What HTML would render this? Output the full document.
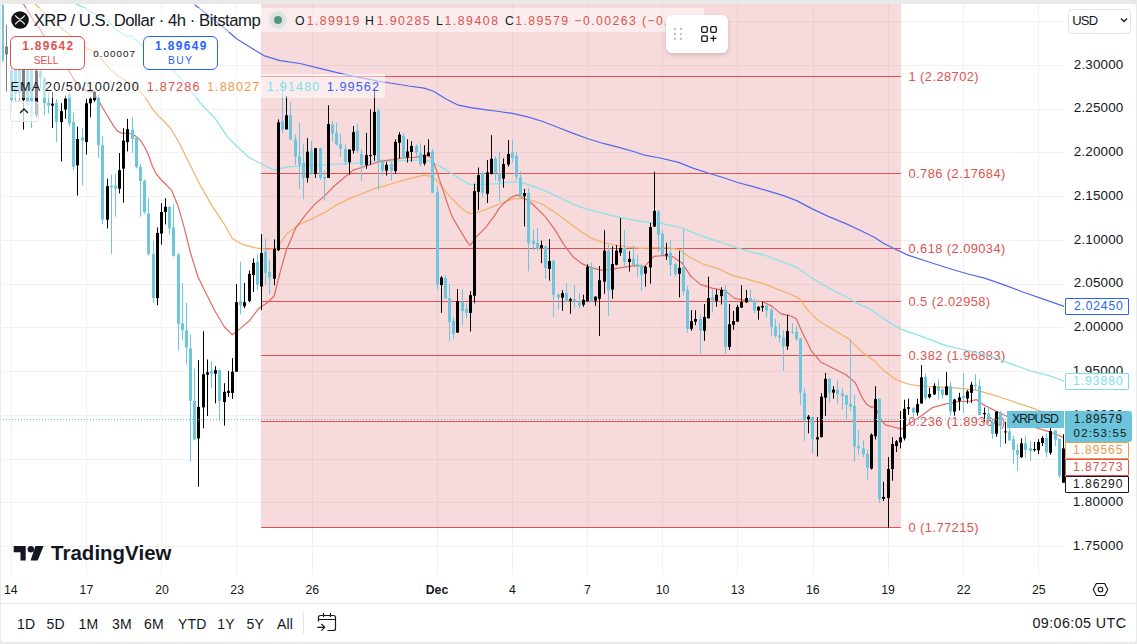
<!DOCTYPE html>
<html><head><meta charset="utf-8">
<style>
html,body{margin:0;padding:0;width:1137px;height:644px;overflow:hidden;background:#e9e9ea;font-family:"Liberation Sans",sans-serif;}
.card{position:absolute;left:1px;top:4px;width:1135px;height:637.5px;background:#fff;border-radius:3px;overflow:hidden}
.abs{position:absolute;white-space:nowrap}
.t{position:absolute;white-space:nowrap;font-family:"Liberation Sans",sans-serif}
#chart{position:absolute;left:0;top:0}
.lg{background:rgba(255,255,255,0.55)}
.pl{position:absolute;left:1074px;font-size:12.5px;color:#131722;line-height:14px}
.tl{position:absolute;top:582px;font-size:12.5px;color:#131722;line-height:14px;transform:translateX(-50%)}
.fib{position:absolute;left:908px;font-size:12.5px;color:#e0524d;line-height:14px}
.tb{position:absolute;top:616px;font-size:14px;color:#131722;line-height:16px}
.pbox{position:absolute;left:1065px;width:62px;height:14px;border:1px solid;border-radius:2px;font-size:12.5px;line-height:14px;text-align:center;background:#fff}
</style></head><body>
<div class="card"></div>
<svg id="chart" width="1137" height="644" viewBox="0 0 1137 644">
<defs><clipPath id="pane"><rect x="2" y="4" width="1063" height="571"/></clipPath></defs>
<g clip-path="url(#pane)">
<line x1="11.5" y1="4" x2="11.5" y2="575" stroke="#f1f1f1" stroke-width="1"/>
<line x1="86.5" y1="4" x2="86.5" y2="575" stroke="#f1f1f1" stroke-width="1"/>
<line x1="161.5" y1="4" x2="161.5" y2="575" stroke="#f1f1f1" stroke-width="1"/>
<line x1="236.5" y1="4" x2="236.5" y2="575" stroke="#f1f1f1" stroke-width="1"/>
<line x1="312.5" y1="4" x2="312.5" y2="575" stroke="#f1f1f1" stroke-width="1"/>
<line x1="437.5" y1="4" x2="437.5" y2="575" stroke="#f1f1f1" stroke-width="1"/>
<line x1="512.5" y1="4" x2="512.5" y2="575" stroke="#f1f1f1" stroke-width="1"/>
<line x1="587.5" y1="4" x2="587.5" y2="575" stroke="#f1f1f1" stroke-width="1"/>
<line x1="662.5" y1="4" x2="662.5" y2="575" stroke="#f1f1f1" stroke-width="1"/>
<line x1="737.5" y1="4" x2="737.5" y2="575" stroke="#f1f1f1" stroke-width="1"/>
<line x1="813.5" y1="4" x2="813.5" y2="575" stroke="#f1f1f1" stroke-width="1"/>
<line x1="888.5" y1="4" x2="888.5" y2="575" stroke="#f1f1f1" stroke-width="1"/>
<line x1="963.5" y1="4" x2="963.5" y2="575" stroke="#f1f1f1" stroke-width="1"/>
<line x1="1038.5" y1="4" x2="1038.5" y2="575" stroke="#f1f1f1" stroke-width="1"/>
<line x1="0" y1="21.5" x2="1064" y2="21.5" stroke="#f1f1f1" stroke-width="1"/>
<line x1="0" y1="65.5" x2="1064" y2="65.5" stroke="#f1f1f1" stroke-width="1"/>
<line x1="0" y1="109.5" x2="1064" y2="109.5" stroke="#f1f1f1" stroke-width="1"/>
<line x1="0" y1="152.5" x2="1064" y2="152.5" stroke="#f1f1f1" stroke-width="1"/>
<line x1="0" y1="196.5" x2="1064" y2="196.5" stroke="#f1f1f1" stroke-width="1"/>
<line x1="0" y1="240.5" x2="1064" y2="240.5" stroke="#f1f1f1" stroke-width="1"/>
<line x1="0" y1="284.5" x2="1064" y2="284.5" stroke="#f1f1f1" stroke-width="1"/>
<line x1="0" y1="327.5" x2="1064" y2="327.5" stroke="#f1f1f1" stroke-width="1"/>
<line x1="0" y1="371.5" x2="1064" y2="371.5" stroke="#f1f1f1" stroke-width="1"/>
<line x1="0" y1="415.5" x2="1064" y2="415.5" stroke="#f1f1f1" stroke-width="1"/>
<line x1="0" y1="459.5" x2="1064" y2="459.5" stroke="#f1f1f1" stroke-width="1"/>
<line x1="0" y1="502.5" x2="1064" y2="502.5" stroke="#f1f1f1" stroke-width="1"/>
<line x1="0" y1="546.5" x2="1064" y2="546.5" stroke="#f1f1f1" stroke-width="1"/>
<rect x="261" y="4" width="640" height="523" fill="rgba(219,107,115,0.25)"/>
<line x1="261" y1="76.5" x2="901" y2="76.5" stroke="#e0524d" stroke-width="1"/>
<line x1="261" y1="173.5" x2="901" y2="173.5" stroke="#e0524d" stroke-width="1"/>
<line x1="261" y1="248.5" x2="901" y2="248.5" stroke="#e0524d" stroke-width="1"/>
<line x1="261" y1="301.5" x2="901" y2="301.5" stroke="#e0524d" stroke-width="1"/>
<line x1="261" y1="355.5" x2="901" y2="355.5" stroke="#e0524d" stroke-width="1"/>
<line x1="261" y1="421.5" x2="901" y2="421.5" stroke="#e0524d" stroke-width="1"/>
<line x1="261" y1="527.5" x2="901" y2="527.5" stroke="#e0524d" stroke-width="1"/>
<text x="908.5" y="81.0" font-family="Liberation Sans" font-size="12.86" letter-spacing="0.43" fill="#e0524d" class="fibt">1 (2.28702)</text>
<text x="908.5" y="178.0" font-family="Liberation Sans" font-size="12.86" letter-spacing="0.43" fill="#e0524d" class="fibt">0.786 (2.17684)</text>
<text x="908.5" y="253.0" font-family="Liberation Sans" font-size="12.86" letter-spacing="0.43" fill="#e0524d" class="fibt">0.618 (2.09034)</text>
<text x="908.5" y="306.0" font-family="Liberation Sans" font-size="12.86" letter-spacing="0.43" fill="#e0524d" class="fibt">0.5 (2.02958)</text>
<text x="908.5" y="360.0" font-family="Liberation Sans" font-size="12.86" letter-spacing="0.43" fill="#e0524d" class="fibt">0.382 (1.96883)</text>
<text x="908.5" y="426.0" font-family="Liberation Sans" font-size="12.86" letter-spacing="0.43" fill="#e0524d" class="fibt">0.236 (1.89360)</text>
<text x="908.5" y="532.0" font-family="Liberation Sans" font-size="12.86" letter-spacing="0.43" fill="#e0524d" class="fibt">0 (1.77215)</text>
<polyline points="194.7,4.7 208.7,15.5 224.2,28.0 236.6,38.8 249.0,46.6 264.6,55.9 280.0,60.6 300.0,63.5 315.5,67.3 331.0,71.1 346.6,74.8 362.1,77.9 377.6,81.0 393.2,83.5 408.7,86.0 424.2,88.1 433.5,91.2 446.0,99.0 458.4,105.2 470.8,107.7 486.3,109.9 495.5,111.0 511.0,113.2 526.6,116.6 542.1,121.3 557.6,127.2 573.2,133.4 588.7,139.0 604.2,143.7 619.8,147.7 635.3,152.0 644.6,155.2 660.0,158.0 678.6,162.4 694.2,168.6 709.7,173.5 722.1,177.3 737.6,182.5 753.2,186.6 768.7,191.2 784.2,195.9 796.6,200.6 812.2,208.9 827.7,216.1 846.3,223.9 861.6,231.0 875.2,237.7 882.9,243.0 894.5,248.8 908.0,255.1 927.4,261.5 946.8,267.7 966.1,273.5 985.4,278.4 1004.8,285.1 1024.2,292.5 1043.5,299.1 1064.0,306.4" fill="none" stroke="#5068ef" stroke-width="1.2" stroke-linejoin="round"/>
<polyline points="75.5,3.7 83.8,7.5 93.2,13.0 100.0,17.0 108.1,20.5 115.7,29.5 126.6,36.2 131.0,35.7 143.5,46.6 162.1,62.1 174.5,71.4 190.0,90.0 202.5,105.6 214.9,118.0 227.3,136.6 239.8,149.0 249.4,157.8 261.8,164.0 274.2,170.2 286.6,167.1 305.3,165.5 323.9,164.9 342.5,164.0 362.1,162.7 393.2,161.1 421.1,160.0 425.0,160.1 431.2,161.6 437.4,164.8 443.6,168.6 449.8,172.5 456.1,176.4 462.3,180.3 468.5,183.9 473.1,184.9 479.3,184.5 487.1,184.2 495.0,183.9 504.8,182.5 514.2,181.9 523.5,183.1 535.9,187.1 548.3,192.4 560.7,198.0 573.2,204.2 585.6,208.9 598.0,212.0 610.4,215.1 622.9,218.2 635.3,220.4 647.7,222.3 660.0,223.2 678.6,227.0 694.2,233.2 709.7,238.8 722.1,242.5 737.6,248.1 753.2,252.4 768.7,256.5 784.2,262.7 796.6,267.3 812.2,278.2 827.7,287.5 843.2,295.3 860.0,304.6 870.7,309.5 886.3,320.4 901.8,329.7 920.4,335.9 930.0,339.7 946.8,345.9 963.5,349.5 980.3,353.7 997.1,358.5 1013.8,364.9 1030.6,371.0 1047.4,375.2 1064.2,381.0" fill="none" stroke="#88e2ec" stroke-width="1.25" stroke-linejoin="round"/>
<polyline points="34.5,3.7 41.0,9.3 48.4,16.8 55.9,22.4 63.4,29.8 70.8,35.4 78.3,41.0 85.7,47.5 93.2,51.2 100.6,57.8 104.8,63.4 111.1,70.4 118.8,76.6 126.6,81.2 134.3,85.9 140.6,92.1 145.2,97.5 151.8,108.0 158.0,115.6 164.2,121.3 169.8,127.5 174.5,134.8 179.5,143.5 190.4,165.5 199.7,184.2 212.1,205.9 224.5,224.5 232.3,238.5 243.2,244.7 255.6,247.8 268.0,249.4 277.3,247.8 286.6,233.9 299.1,224.5 312.4,218.6 324.8,212.4 337.3,204.6 349.7,198.4 362.1,193.7 374.5,188.4 387.0,185.3 399.4,181.3 411.8,178.2 424.2,175.1 431.2,176.4 437.4,181.1 443.6,188.8 449.8,196.6 456.1,202.8 462.3,209.0 470.0,213.7 474.7,212.9 480.9,211.3 487.1,209.0 495.0,205.9 504.8,201.7 514.2,198.6 523.5,198.6 532.8,200.5 542.1,204.2 554.5,212.0 567.0,221.3 579.4,230.6 591.8,238.4 604.2,243.0 616.6,245.2 629.1,247.1 641.5,248.3 653.9,247.7 666.3,247.7 678.6,249.3 691.1,258.0 703.5,264.2 719.0,268.9 731.4,275.1 747.0,279.1 765.6,284.4 781.1,290.6 790.0,294.0 799.3,298.6 808.6,311.1 818.0,320.4 833.5,329.7 849.0,339.0 861.4,351.4 873.9,360.7 883.2,370.1 895.6,379.4 908.0,384.0 920.4,386.2 939.1,387.1 957.7,388.1 976.3,390.2 997.1,396.2 1013.8,401.8 1030.6,407.4 1041.8,411.6 1053.0,415.8 1064.2,419.0" fill="none" stroke="#f5b064" stroke-width="1.2" stroke-linejoin="round"/>
<polyline points="23.3,3.7 28.0,11.2 33.5,20.5 39.1,28.0 43.8,35.4 53.0,48.0 60.0,58.0 68.9,70.8 74.5,80.1 80.1,87.6 87.6,91.3 93.2,92.1 98.6,100.5 102.5,107.5 106.2,113.7 109.9,119.9 113.7,126.1 117.4,131.1 121.1,132.9 124.8,133.3 129.8,133.5 133.5,134.8 137.3,137.3 141.0,141.0 144.7,147.2 148.4,154.7 152.2,165.8 155.9,173.3 160.9,179.5 171.7,190.4 178.0,205.9 184.2,227.6 190.4,252.5 198.1,277.3 205.9,292.9 215.2,311.5 224.5,327.0 232.3,334.8 240.1,328.6 249.4,320.8 258.7,308.4 268.0,302.2 274.2,296.0 280.4,271.1 286.6,249.4 296.0,227.6 305.3,215.2 314.6,204.3 323.9,196.6 334.2,186.0 343.5,178.2 352.8,170.4 362.1,167.3 371.4,164.2 380.7,161.1 393.2,159.6 402.5,158.0 414.9,157.4 426.6,155.4 431.2,157.8 434.3,164.0 437.4,173.3 440.5,182.6 443.6,191.9 446.7,201.2 449.8,210.6 453.0,218.3 457.6,226.1 462.3,233.9 466.9,241.6 470.0,245.5 473.1,241.6 476.2,237.0 480.9,232.3 485.6,227.6 490.2,221.4 495.0,215.2 498.6,208.9 504.8,202.7 511.0,197.4 517.3,194.9 523.5,198.0 529.7,201.7 535.9,207.3 545.2,216.6 554.5,229.1 563.9,244.6 573.2,257.0 582.5,263.9 591.8,267.9 601.1,270.1 610.4,269.4 619.8,267.9 629.1,266.3 635.3,265.7 644.6,266.3 653.9,256.4 663.2,255.5 672.4,256.5 681.7,262.7 691.1,276.6 700.4,284.4 712.8,288.4 725.2,290.6 734.5,298.4 747.0,300.9 762.5,301.5 771.8,306.1 781.1,313.9 790.0,315.7 796.2,318.8 802.4,332.8 811.7,351.4 821.1,362.3 833.5,368.5 845.9,374.7 855.2,382.5 862.0,397.3 866.7,404.3 871.3,407.3 874.1,406.6 877.4,411.3 881.1,420.2 885.3,424.8 895.6,427.5 901.8,429.1 908.0,424.4 920.4,416.6 932.9,407.3 945.3,404.2 957.7,401.7 970.1,401.1 976.3,399.6 983.1,404.6 994.3,410.2 1005.5,415.8 1019.4,421.4 1033.4,427.0 1047.4,431.1 1058.6,435.3 1064.2,438.0" fill="none" stroke="#e06a62" stroke-width="1.2" stroke-linejoin="round"/>
<rect x="2" y="4.7" width="1" height="57.5" fill="#6cc7dc"/>
<rect x="1" y="4.7" width="3" height="55.9" fill="#6cc7dc"/>
<rect x="6" y="24.8" width="1" height="66.8" fill="#000000"/>
<rect x="5" y="46.6" width="3" height="7.8" fill="#000000"/>
<rect x="11" y="66.0" width="1" height="46.0" fill="#6cc7dc"/>
<rect x="10" y="70.0" width="3" height="30.0" fill="#6cc7dc"/>
<rect x="15" y="66.0" width="1" height="35.0" fill="#6cc7dc"/>
<rect x="14" y="70.0" width="3" height="23.5" fill="#6cc7dc"/>
<rect x="19" y="66.0" width="1" height="35.0" fill="#6cc7dc"/>
<rect x="18" y="70.0" width="3" height="23.5" fill="#6cc7dc"/>
<rect x="23" y="66.0" width="1" height="63.6" fill="#000000"/>
<rect x="22" y="70.0" width="3" height="30.0" fill="#000000"/>
<rect x="27" y="66.0" width="1" height="46.0" fill="#6cc7dc"/>
<rect x="26" y="70.0" width="3" height="35.0" fill="#6cc7dc"/>
<rect x="31" y="70.2" width="1" height="57.8" fill="#6cc7dc"/>
<rect x="30" y="70.5" width="3" height="47.5" fill="#6cc7dc"/>
<rect x="36" y="70.2" width="1" height="47.8" fill="#000000"/>
<rect x="35" y="70.7" width="3" height="44.7" fill="#000000"/>
<rect x="40" y="70.2" width="1" height="18.2" fill="#6cc7dc"/>
<rect x="39" y="71.0" width="3" height="7.0" fill="#6cc7dc"/>
<rect x="44" y="77.2" width="1" height="38.2" fill="#6cc7dc"/>
<rect x="43" y="78.6" width="3" height="24.7" fill="#6cc7dc"/>
<rect x="48" y="92.0" width="1" height="21.5" fill="#6cc7dc"/>
<rect x="47" y="102.8" width="3" height="2.8" fill="#6cc7dc"/>
<rect x="52" y="92.0" width="1" height="36.0" fill="#000000"/>
<rect x="51" y="103.7" width="3" height="1.9" fill="#000000"/>
<rect x="56" y="99.0" width="1" height="43.0" fill="#6cc7dc"/>
<rect x="55" y="102.8" width="3" height="19.1" fill="#6cc7dc"/>
<rect x="61" y="103.3" width="1" height="58.1" fill="#000000"/>
<rect x="60" y="111.1" width="3" height="10.9" fill="#000000"/>
<rect x="65" y="95.5" width="1" height="23.3" fill="#000000"/>
<rect x="64" y="98.6" width="3" height="10.9" fill="#000000"/>
<rect x="69" y="92.4" width="1" height="34.2" fill="#6cc7dc"/>
<rect x="68" y="94.0" width="3" height="29.5" fill="#6cc7dc"/>
<rect x="73" y="112.6" width="1" height="57.5" fill="#6cc7dc"/>
<rect x="72" y="121.9" width="3" height="45.0" fill="#6cc7dc"/>
<rect x="77" y="126.6" width="1" height="68.9" fill="#000000"/>
<rect x="76" y="139.0" width="3" height="26.4" fill="#000000"/>
<rect x="82" y="128.1" width="1" height="57.5" fill="#6cc7dc"/>
<rect x="81" y="137.5" width="3" height="3.1" fill="#6cc7dc"/>
<rect x="86" y="98.6" width="1" height="55.9" fill="#000000"/>
<rect x="85" y="103.3" width="3" height="38.8" fill="#000000"/>
<rect x="90" y="97.1" width="1" height="20.2" fill="#000000"/>
<rect x="89" y="98.6" width="3" height="4.7" fill="#000000"/>
<rect x="94" y="90.9" width="1" height="10.9" fill="#000000"/>
<rect x="93" y="91.8" width="3" height="8.4" fill="#000000"/>
<rect x="98" y="94.0" width="1" height="63.7" fill="#6cc7dc"/>
<rect x="97" y="97.1" width="3" height="48.1" fill="#6cc7dc"/>
<rect x="102" y="135.9" width="1" height="88.5" fill="#6cc7dc"/>
<rect x="101" y="145.2" width="3" height="74.5" fill="#6cc7dc"/>
<rect x="107" y="178.8" width="1" height="49.7" fill="#000000"/>
<rect x="106" y="186.2" width="3" height="33.5" fill="#000000"/>
<rect x="111" y="174.7" width="1" height="79.2" fill="#6cc7dc"/>
<rect x="110" y="185.6" width="3" height="1.9" fill="#6cc7dc"/>
<rect x="115" y="173.2" width="1" height="43.5" fill="#6cc7dc"/>
<rect x="114" y="185.6" width="3" height="3.1" fill="#6cc7dc"/>
<rect x="119" y="153.0" width="1" height="40.4" fill="#000000"/>
<rect x="118" y="170.1" width="3" height="18.6" fill="#000000"/>
<rect x="123" y="128.1" width="1" height="74.5" fill="#000000"/>
<rect x="122" y="140.6" width="3" height="28.0" fill="#000000"/>
<rect x="127" y="118.8" width="1" height="32.6" fill="#000000"/>
<rect x="126" y="129.1" width="3" height="13.0" fill="#000000"/>
<rect x="132" y="117.3" width="1" height="35.7" fill="#6cc7dc"/>
<rect x="131" y="129.7" width="3" height="9.3" fill="#6cc7dc"/>
<rect x="136" y="135.9" width="1" height="32.6" fill="#6cc7dc"/>
<rect x="135" y="137.5" width="3" height="29.5" fill="#6cc7dc"/>
<rect x="140" y="163.9" width="1" height="52.7" fill="#6cc7dc"/>
<rect x="139" y="167.0" width="3" height="14.0" fill="#6cc7dc"/>
<rect x="144" y="179.4" width="1" height="34.6" fill="#6cc7dc"/>
<rect x="143" y="181.0" width="3" height="31.0" fill="#6cc7dc"/>
<rect x="148" y="198.0" width="1" height="57.5" fill="#6cc7dc"/>
<rect x="147" y="213.5" width="3" height="40.4" fill="#6cc7dc"/>
<rect x="153" y="240.6" width="1" height="62.5" fill="#6cc7dc"/>
<rect x="152" y="253.7" width="3" height="44.4" fill="#6cc7dc"/>
<rect x="157" y="227.4" width="1" height="77.8" fill="#000000"/>
<rect x="156" y="232.9" width="3" height="65.2" fill="#000000"/>
<rect x="161" y="203.2" width="1" height="41.4" fill="#000000"/>
<rect x="160" y="211.9" width="3" height="21.6" fill="#000000"/>
<rect x="165" y="198.2" width="1" height="26.2" fill="#000000"/>
<rect x="164" y="206.8" width="3" height="5.1" fill="#000000"/>
<rect x="169" y="206.2" width="1" height="28.3" fill="#6cc7dc"/>
<rect x="168" y="206.8" width="3" height="21.6" fill="#6cc7dc"/>
<rect x="173" y="204.2" width="1" height="52.5" fill="#6cc7dc"/>
<rect x="172" y="227.4" width="3" height="28.3" fill="#6cc7dc"/>
<rect x="178" y="253.0" width="1" height="97.5" fill="#6cc7dc"/>
<rect x="177" y="254.7" width="3" height="69.1" fill="#6cc7dc"/>
<rect x="182" y="283.0" width="1" height="57.4" fill="#6cc7dc"/>
<rect x="181" y="323.2" width="3" height="7.1" fill="#6cc7dc"/>
<rect x="186" y="303.0" width="1" height="61.6" fill="#6cc7dc"/>
<rect x="185" y="330.3" width="3" height="17.1" fill="#6cc7dc"/>
<rect x="190" y="334.3" width="1" height="127.3" fill="#6cc7dc"/>
<rect x="189" y="348.4" width="3" height="52.5" fill="#6cc7dc"/>
<rect x="194" y="368.6" width="1" height="71.9" fill="#6cc7dc"/>
<rect x="193" y="400.9" width="3" height="38.5" fill="#6cc7dc"/>
<rect x="198" y="360.2" width="1" height="126.6" fill="#000000"/>
<rect x="197" y="407.0" width="3" height="31.4" fill="#000000"/>
<rect x="203" y="331.3" width="1" height="97.0" fill="#000000"/>
<rect x="202" y="374.3" width="3" height="33.1" fill="#000000"/>
<rect x="207" y="359.5" width="1" height="56.5" fill="#000000"/>
<rect x="206" y="372.3" width="3" height="2.4" fill="#000000"/>
<rect x="211" y="361.0" width="1" height="27.4" fill="#6cc7dc"/>
<rect x="210" y="371.0" width="3" height="2.7" fill="#6cc7dc"/>
<rect x="215" y="366.2" width="1" height="37.1" fill="#000000"/>
<rect x="214" y="370.2" width="3" height="3.5" fill="#000000"/>
<rect x="219" y="369.6" width="1" height="51.1" fill="#6cc7dc"/>
<rect x="218" y="370.2" width="3" height="30.8" fill="#6cc7dc"/>
<rect x="224" y="383.2" width="1" height="42.4" fill="#000000"/>
<rect x="223" y="391.8" width="3" height="10.2" fill="#000000"/>
<rect x="228" y="371.0" width="1" height="25.9" fill="#000000"/>
<rect x="227" y="390.8" width="3" height="2.1" fill="#000000"/>
<rect x="232" y="358.1" width="1" height="40.8" fill="#000000"/>
<rect x="231" y="371.7" width="3" height="21.2" fill="#000000"/>
<rect x="236" y="284.0" width="1" height="88.0" fill="#000000"/>
<rect x="235" y="302.1" width="3" height="69.6" fill="#000000"/>
<rect x="240" y="261.8" width="1" height="52.3" fill="#6cc7dc"/>
<rect x="239" y="301.1" width="3" height="4.1" fill="#6cc7dc"/>
<rect x="244" y="283.0" width="1" height="25.2" fill="#000000"/>
<rect x="243" y="302.1" width="3" height="4.1" fill="#000000"/>
<rect x="249" y="270.4" width="1" height="31.7" fill="#000000"/>
<rect x="248" y="273.9" width="3" height="27.2" fill="#000000"/>
<rect x="253" y="258.3" width="1" height="33.7" fill="#000000"/>
<rect x="252" y="262.8" width="3" height="12.1" fill="#000000"/>
<rect x="257" y="254.3" width="1" height="35.7" fill="#6cc7dc"/>
<rect x="256" y="261.8" width="3" height="23.2" fill="#6cc7dc"/>
<rect x="261" y="234.1" width="1" height="75.9" fill="#000000"/>
<rect x="260" y="253.1" width="3" height="33.5" fill="#000000"/>
<rect x="265" y="238.5" width="1" height="46.5" fill="#6cc7dc"/>
<rect x="264" y="251.7" width="3" height="21.2" fill="#6cc7dc"/>
<rect x="269" y="259.6" width="1" height="35.0" fill="#6cc7dc"/>
<rect x="268" y="272.0" width="3" height="5.5" fill="#6cc7dc"/>
<rect x="274" y="239.4" width="1" height="45.9" fill="#000000"/>
<rect x="273" y="248.8" width="3" height="30.0" fill="#000000"/>
<rect x="278" y="119.4" width="1" height="131.6" fill="#000000"/>
<rect x="277" y="122.4" width="3" height="127.9" fill="#000000"/>
<rect x="282" y="80.0" width="1" height="53.5" fill="#6cc7dc"/>
<rect x="281" y="121.4" width="3" height="8.1" fill="#6cc7dc"/>
<rect x="286" y="96.1" width="1" height="33.3" fill="#000000"/>
<rect x="285" y="115.3" width="3" height="14.1" fill="#000000"/>
<rect x="290" y="102.2" width="1" height="37.3" fill="#6cc7dc"/>
<rect x="289" y="115.3" width="3" height="24.2" fill="#6cc7dc"/>
<rect x="295" y="134.5" width="1" height="30.3" fill="#6cc7dc"/>
<rect x="294" y="139.5" width="3" height="17.2" fill="#6cc7dc"/>
<rect x="299" y="122.4" width="1" height="66.6" fill="#6cc7dc"/>
<rect x="298" y="156.3" width="3" height="8.5" fill="#6cc7dc"/>
<rect x="303" y="144.6" width="1" height="54.5" fill="#6cc7dc"/>
<rect x="302" y="162.8" width="3" height="15.1" fill="#6cc7dc"/>
<rect x="307" y="138.1" width="1" height="44.4" fill="#000000"/>
<rect x="306" y="151.7" width="3" height="26.2" fill="#000000"/>
<rect x="311" y="141.0" width="1" height="33.9" fill="#6cc7dc"/>
<rect x="310" y="150.6" width="3" height="23.2" fill="#6cc7dc"/>
<rect x="315" y="148.2" width="1" height="29.7" fill="#000000"/>
<rect x="314" y="148.2" width="3" height="25.6" fill="#000000"/>
<rect x="320" y="147.6" width="1" height="32.3" fill="#6cc7dc"/>
<rect x="319" y="148.2" width="3" height="29.7" fill="#6cc7dc"/>
<rect x="324" y="170.4" width="1" height="30.3" fill="#6cc7dc"/>
<rect x="323" y="176.9" width="3" height="1.6" fill="#6cc7dc"/>
<rect x="328" y="105.2" width="1" height="72.7" fill="#000000"/>
<rect x="327" y="124.0" width="3" height="53.9" fill="#000000"/>
<rect x="332" y="121.4" width="1" height="20.2" fill="#6cc7dc"/>
<rect x="331" y="124.4" width="3" height="9.1" fill="#6cc7dc"/>
<rect x="336" y="122.4" width="1" height="23.2" fill="#6cc7dc"/>
<rect x="335" y="132.9" width="3" height="11.7" fill="#6cc7dc"/>
<rect x="340" y="134.1" width="1" height="22.6" fill="#6cc7dc"/>
<rect x="339" y="144.2" width="3" height="4.4" fill="#6cc7dc"/>
<rect x="345" y="144.2" width="1" height="20.6" fill="#6cc7dc"/>
<rect x="344" y="149.0" width="3" height="12.7" fill="#6cc7dc"/>
<rect x="349" y="149.6" width="1" height="25.2" fill="#000000"/>
<rect x="348" y="149.6" width="3" height="12.7" fill="#000000"/>
<rect x="353" y="126.0" width="1" height="27.7" fill="#000000"/>
<rect x="352" y="132.1" width="3" height="18.6" fill="#000000"/>
<rect x="357" y="123.4" width="1" height="29.3" fill="#6cc7dc"/>
<rect x="356" y="130.9" width="3" height="19.8" fill="#6cc7dc"/>
<rect x="361" y="149.6" width="1" height="31.3" fill="#6cc7dc"/>
<rect x="360" y="153.7" width="3" height="11.5" fill="#6cc7dc"/>
<rect x="366" y="132.9" width="1" height="35.9" fill="#000000"/>
<rect x="365" y="155.1" width="3" height="10.1" fill="#000000"/>
<rect x="370" y="109.3" width="1" height="55.5" fill="#000000"/>
<rect x="369" y="155.1" width="3" height="1.0" fill="#000000"/>
<rect x="374" y="88.1" width="1" height="72.7" fill="#000000"/>
<rect x="373" y="111.9" width="3" height="43.2" fill="#000000"/>
<rect x="378" y="108.3" width="1" height="81.8" fill="#6cc7dc"/>
<rect x="377" y="110.7" width="3" height="50.1" fill="#6cc7dc"/>
<rect x="382" y="159.5" width="1" height="16.1" fill="#6cc7dc"/>
<rect x="381" y="162.1" width="3" height="8.5" fill="#6cc7dc"/>
<rect x="386" y="162.1" width="1" height="13.5" fill="#000000"/>
<rect x="385" y="164.9" width="3" height="5.7" fill="#000000"/>
<rect x="391" y="161.5" width="1" height="19.2" fill="#6cc7dc"/>
<rect x="390" y="164.1" width="3" height="6.5" fill="#6cc7dc"/>
<rect x="395" y="139.3" width="1" height="34.3" fill="#000000"/>
<rect x="394" y="141.9" width="3" height="29.1" fill="#000000"/>
<rect x="399" y="132.2" width="1" height="26.2" fill="#000000"/>
<rect x="398" y="134.6" width="3" height="8.1" fill="#000000"/>
<rect x="403" y="133.2" width="1" height="26.2" fill="#6cc7dc"/>
<rect x="402" y="135.8" width="3" height="22.6" fill="#6cc7dc"/>
<rect x="407" y="139.3" width="1" height="23.2" fill="#000000"/>
<rect x="406" y="151.4" width="3" height="6.1" fill="#000000"/>
<rect x="411" y="141.3" width="1" height="20.2" fill="#000000"/>
<rect x="410" y="145.9" width="3" height="6.1" fill="#000000"/>
<rect x="416" y="144.3" width="1" height="14.1" fill="#6cc7dc"/>
<rect x="415" y="145.9" width="3" height="6.5" fill="#6cc7dc"/>
<rect x="420" y="143.3" width="1" height="23.2" fill="#6cc7dc"/>
<rect x="419" y="152.8" width="3" height="11.3" fill="#6cc7dc"/>
<rect x="424" y="145.3" width="1" height="20.2" fill="#000000"/>
<rect x="423" y="154.8" width="3" height="8.7" fill="#000000"/>
<rect x="428" y="139.3" width="1" height="16.8" fill="#000000"/>
<rect x="427" y="152.4" width="3" height="3.6" fill="#000000"/>
<rect x="432" y="149.4" width="1" height="43.8" fill="#6cc7dc"/>
<rect x="431" y="151.4" width="3" height="41.4" fill="#6cc7dc"/>
<rect x="437" y="186.3" width="1" height="103.3" fill="#6cc7dc"/>
<rect x="436" y="191.8" width="3" height="92.8" fill="#6cc7dc"/>
<rect x="441" y="276.1" width="1" height="36.7" fill="#000000"/>
<rect x="440" y="277.5" width="3" height="7.5" fill="#000000"/>
<rect x="445" y="274.9" width="1" height="23.8" fill="#6cc7dc"/>
<rect x="444" y="278.1" width="3" height="20.6" fill="#6cc7dc"/>
<rect x="449" y="284.2" width="1" height="57.3" fill="#6cc7dc"/>
<rect x="448" y="298.3" width="3" height="23.6" fill="#6cc7dc"/>
<rect x="453" y="317.3" width="1" height="22.2" fill="#6cc7dc"/>
<rect x="452" y="320.9" width="3" height="13.1" fill="#6cc7dc"/>
<rect x="457" y="289.0" width="1" height="43.6" fill="#000000"/>
<rect x="456" y="301.1" width="3" height="31.5" fill="#000000"/>
<rect x="462" y="289.0" width="1" height="36.3" fill="#6cc7dc"/>
<rect x="461" y="301.8" width="3" height="9.1" fill="#6cc7dc"/>
<rect x="466" y="303.2" width="1" height="15.3" fill="#6cc7dc"/>
<rect x="465" y="308.8" width="3" height="4.0" fill="#6cc7dc"/>
<rect x="470" y="291.1" width="1" height="40.4" fill="#000000"/>
<rect x="469" y="295.1" width="3" height="17.8" fill="#000000"/>
<rect x="474" y="183.7" width="1" height="119.5" fill="#000000"/>
<rect x="473" y="191.1" width="3" height="104.6" fill="#000000"/>
<rect x="478" y="167.5" width="1" height="42.4" fill="#000000"/>
<rect x="477" y="175.0" width="3" height="16.8" fill="#000000"/>
<rect x="482" y="171.6" width="1" height="25.6" fill="#6cc7dc"/>
<rect x="481" y="173.0" width="3" height="19.8" fill="#6cc7dc"/>
<rect x="487" y="160.1" width="1" height="42.8" fill="#000000"/>
<rect x="486" y="172.2" width="3" height="21.6" fill="#000000"/>
<rect x="491" y="135.2" width="1" height="39.0" fill="#000000"/>
<rect x="490" y="158.8" width="3" height="15.3" fill="#000000"/>
<rect x="495" y="156.4" width="1" height="24.2" fill="#6cc7dc"/>
<rect x="494" y="158.4" width="3" height="14.5" fill="#6cc7dc"/>
<rect x="499" y="151.4" width="1" height="50.5" fill="#6cc7dc"/>
<rect x="498" y="173.0" width="3" height="8.1" fill="#6cc7dc"/>
<rect x="503" y="158.4" width="1" height="29.3" fill="#000000"/>
<rect x="502" y="164.1" width="3" height="14.5" fill="#000000"/>
<rect x="508" y="139.9" width="1" height="26.6" fill="#000000"/>
<rect x="507" y="154.0" width="3" height="10.5" fill="#000000"/>
<rect x="512" y="139.7" width="1" height="23.0" fill="#6cc7dc"/>
<rect x="511" y="152.6" width="3" height="5.7" fill="#6cc7dc"/>
<rect x="516" y="151.8" width="1" height="28.7" fill="#6cc7dc"/>
<rect x="515" y="155.8" width="3" height="21.0" fill="#6cc7dc"/>
<rect x="520" y="171.4" width="1" height="26.2" fill="#6cc7dc"/>
<rect x="519" y="177.4" width="3" height="18.2" fill="#6cc7dc"/>
<rect x="524" y="188.9" width="1" height="37.5" fill="#000000"/>
<rect x="523" y="193.0" width="3" height="3.2" fill="#000000"/>
<rect x="528" y="188.1" width="1" height="83.2" fill="#6cc7dc"/>
<rect x="527" y="193.0" width="3" height="50.1" fill="#6cc7dc"/>
<rect x="533" y="229.9" width="1" height="20.2" fill="#6cc7dc"/>
<rect x="532" y="240.6" width="3" height="3.4" fill="#6cc7dc"/>
<rect x="537" y="227.9" width="1" height="22.8" fill="#6cc7dc"/>
<rect x="536" y="243.0" width="3" height="6.1" fill="#6cc7dc"/>
<rect x="541" y="240.6" width="1" height="22.6" fill="#000000"/>
<rect x="540" y="245.1" width="3" height="3.0" fill="#000000"/>
<rect x="545" y="245.8" width="1" height="33.1" fill="#6cc7dc"/>
<rect x="544" y="246.2" width="3" height="21.8" fill="#6cc7dc"/>
<rect x="549" y="239.2" width="1" height="41.4" fill="#000000"/>
<rect x="548" y="261.0" width="3" height="7.9" fill="#000000"/>
<rect x="553" y="259.4" width="1" height="57.5" fill="#6cc7dc"/>
<rect x="552" y="260.8" width="3" height="33.9" fill="#6cc7dc"/>
<rect x="558" y="293.7" width="1" height="16.1" fill="#6cc7dc"/>
<rect x="557" y="294.3" width="3" height="3.4" fill="#6cc7dc"/>
<rect x="562" y="290.2" width="1" height="20.6" fill="#000000"/>
<rect x="561" y="293.1" width="3" height="4.6" fill="#000000"/>
<rect x="566" y="283.0" width="1" height="19.4" fill="#6cc7dc"/>
<rect x="565" y="293.1" width="3" height="8.7" fill="#6cc7dc"/>
<rect x="570" y="297.7" width="1" height="16.1" fill="#000000"/>
<rect x="569" y="299.1" width="3" height="1.6" fill="#000000"/>
<rect x="574" y="285.0" width="1" height="22.8" fill="#6cc7dc"/>
<rect x="573" y="299.1" width="3" height="2.6" fill="#6cc7dc"/>
<rect x="579" y="293.1" width="1" height="15.7" fill="#6cc7dc"/>
<rect x="578" y="301.1" width="3" height="4.6" fill="#6cc7dc"/>
<rect x="583" y="294.7" width="1" height="12.1" fill="#000000"/>
<rect x="582" y="299.7" width="3" height="5.0" fill="#000000"/>
<rect x="587" y="264.4" width="1" height="37.3" fill="#000000"/>
<rect x="586" y="266.8" width="3" height="34.3" fill="#000000"/>
<rect x="591" y="262.8" width="1" height="39.0" fill="#6cc7dc"/>
<rect x="590" y="266.8" width="3" height="34.9" fill="#6cc7dc"/>
<rect x="595" y="296.3" width="1" height="9.5" fill="#000000"/>
<rect x="594" y="296.7" width="3" height="4.0" fill="#000000"/>
<rect x="599" y="266.0" width="1" height="70.0" fill="#000000"/>
<rect x="598" y="280.2" width="3" height="18.6" fill="#000000"/>
<rect x="604" y="230.1" width="1" height="63.6" fill="#000000"/>
<rect x="603" y="250.7" width="3" height="30.9" fill="#000000"/>
<rect x="608" y="244.6" width="1" height="71.3" fill="#6cc7dc"/>
<rect x="607" y="250.7" width="3" height="39.6" fill="#6cc7dc"/>
<rect x="612" y="246.2" width="1" height="52.5" fill="#000000"/>
<rect x="611" y="264.0" width="3" height="25.6" fill="#000000"/>
<rect x="616" y="245.2" width="1" height="20.2" fill="#000000"/>
<rect x="615" y="250.7" width="3" height="14.1" fill="#000000"/>
<rect x="620" y="218.0" width="1" height="37.9" fill="#000000"/>
<rect x="619" y="247.9" width="3" height="4.8" fill="#000000"/>
<rect x="624" y="230.1" width="1" height="37.3" fill="#6cc7dc"/>
<rect x="623" y="247.9" width="3" height="14.1" fill="#6cc7dc"/>
<rect x="629" y="251.3" width="1" height="20.2" fill="#000000"/>
<rect x="628" y="258.8" width="3" height="3.2" fill="#000000"/>
<rect x="633" y="245.2" width="1" height="20.2" fill="#6cc7dc"/>
<rect x="632" y="258.8" width="3" height="6.1" fill="#6cc7dc"/>
<rect x="637" y="254.7" width="1" height="22.2" fill="#6cc7dc"/>
<rect x="636" y="264.0" width="3" height="2.8" fill="#6cc7dc"/>
<rect x="641" y="264.0" width="1" height="26.6" fill="#6cc7dc"/>
<rect x="640" y="266.0" width="3" height="8.9" fill="#6cc7dc"/>
<rect x="645" y="266.0" width="1" height="20.6" fill="#000000"/>
<rect x="644" y="266.8" width="3" height="6.7" fill="#000000"/>
<rect x="650" y="223.0" width="1" height="60.6" fill="#000000"/>
<rect x="649" y="227.0" width="3" height="40.4" fill="#000000"/>
<rect x="654" y="171.7" width="1" height="54.9" fill="#000000"/>
<rect x="653" y="210.9" width="3" height="15.7" fill="#000000"/>
<rect x="658" y="210.1" width="1" height="41.8" fill="#6cc7dc"/>
<rect x="657" y="211.5" width="3" height="23.2" fill="#6cc7dc"/>
<rect x="662" y="230.6" width="1" height="24.2" fill="#6cc7dc"/>
<rect x="661" y="233.7" width="3" height="21.2" fill="#6cc7dc"/>
<rect x="666" y="242.8" width="1" height="17.2" fill="#000000"/>
<rect x="665" y="253.9" width="3" height="1.4" fill="#000000"/>
<rect x="670" y="240.7" width="1" height="35.3" fill="#6cc7dc"/>
<rect x="669" y="252.9" width="3" height="12.1" fill="#6cc7dc"/>
<rect x="675" y="262.9" width="1" height="13.7" fill="#6cc7dc"/>
<rect x="674" y="264.0" width="3" height="10.1" fill="#6cc7dc"/>
<rect x="679" y="250.8" width="1" height="46.6" fill="#000000"/>
<rect x="678" y="267.8" width="3" height="6.0" fill="#000000"/>
<rect x="683" y="229.6" width="1" height="65.8" fill="#6cc7dc"/>
<rect x="682" y="267.0" width="3" height="24.4" fill="#6cc7dc"/>
<rect x="687" y="286.3" width="1" height="46.4" fill="#6cc7dc"/>
<rect x="686" y="290.0" width="3" height="38.8" fill="#6cc7dc"/>
<rect x="691" y="310.2" width="1" height="20.6" fill="#000000"/>
<rect x="690" y="321.1" width="3" height="7.7" fill="#000000"/>
<rect x="695" y="310.2" width="1" height="14.9" fill="#000000"/>
<rect x="694" y="319.0" width="3" height="2.6" fill="#000000"/>
<rect x="700" y="314.6" width="1" height="39.4" fill="#6cc7dc"/>
<rect x="699" y="319.0" width="3" height="11.7" fill="#6cc7dc"/>
<rect x="704" y="304.1" width="1" height="36.7" fill="#000000"/>
<rect x="703" y="317.0" width="3" height="13.7" fill="#000000"/>
<rect x="708" y="276.6" width="1" height="42.0" fill="#000000"/>
<rect x="707" y="298.0" width="3" height="20.2" fill="#000000"/>
<rect x="712" y="289.4" width="1" height="23.2" fill="#6cc7dc"/>
<rect x="711" y="297.4" width="3" height="2.6" fill="#6cc7dc"/>
<rect x="716" y="289.4" width="1" height="17.2" fill="#000000"/>
<rect x="715" y="294.8" width="3" height="6.1" fill="#000000"/>
<rect x="721" y="287.3" width="1" height="17.2" fill="#000000"/>
<rect x="720" y="290.0" width="3" height="6.1" fill="#000000"/>
<rect x="725" y="285.3" width="1" height="68.6" fill="#6cc7dc"/>
<rect x="724" y="290.0" width="3" height="56.9" fill="#6cc7dc"/>
<rect x="729" y="304.1" width="1" height="45.8" fill="#000000"/>
<rect x="728" y="324.3" width="3" height="22.6" fill="#000000"/>
<rect x="733" y="311.0" width="1" height="18.8" fill="#000000"/>
<rect x="732" y="321.1" width="3" height="3.6" fill="#000000"/>
<rect x="737" y="304.9" width="1" height="16.8" fill="#000000"/>
<rect x="736" y="306.9" width="3" height="14.7" fill="#000000"/>
<rect x="741" y="285.3" width="1" height="22.2" fill="#000000"/>
<rect x="740" y="302.1" width="3" height="5.5" fill="#000000"/>
<rect x="746" y="290.0" width="1" height="12.9" fill="#000000"/>
<rect x="745" y="298.0" width="3" height="4.4" fill="#000000"/>
<rect x="750" y="289.4" width="1" height="12.7" fill="#6cc7dc"/>
<rect x="749" y="298.0" width="3" height="3.4" fill="#6cc7dc"/>
<rect x="754" y="298.4" width="1" height="15.1" fill="#6cc7dc"/>
<rect x="753" y="300.9" width="3" height="9.7" fill="#6cc7dc"/>
<rect x="758" y="306.1" width="1" height="13.5" fill="#000000"/>
<rect x="757" y="306.9" width="3" height="3.6" fill="#000000"/>
<rect x="762" y="301.5" width="1" height="10.1" fill="#000000"/>
<rect x="761" y="306.1" width="3" height="1.4" fill="#000000"/>
<rect x="766" y="304.9" width="1" height="12.7" fill="#6cc7dc"/>
<rect x="765" y="305.5" width="3" height="5.0" fill="#6cc7dc"/>
<rect x="771" y="307.5" width="1" height="28.3" fill="#6cc7dc"/>
<rect x="770" y="309.5" width="3" height="17.2" fill="#6cc7dc"/>
<rect x="775" y="319.0" width="1" height="18.8" fill="#6cc7dc"/>
<rect x="774" y="326.7" width="3" height="9.1" fill="#6cc7dc"/>
<rect x="779" y="323.1" width="1" height="19.8" fill="#6cc7dc"/>
<rect x="778" y="335.2" width="3" height="2.0" fill="#6cc7dc"/>
<rect x="783" y="330.3" width="1" height="40.4" fill="#6cc7dc"/>
<rect x="782" y="337.2" width="3" height="9.3" fill="#6cc7dc"/>
<rect x="787" y="315.0" width="1" height="34.9" fill="#000000"/>
<rect x="786" y="331.1" width="3" height="15.3" fill="#000000"/>
<rect x="792" y="323.1" width="1" height="10.7" fill="#6cc7dc"/>
<rect x="791" y="331.8" width="3" height="1.0" fill="#6cc7dc"/>
<rect x="796" y="326.3" width="1" height="14.5" fill="#6cc7dc"/>
<rect x="795" y="331.8" width="3" height="7.1" fill="#6cc7dc"/>
<rect x="800" y="338.2" width="1" height="66.6" fill="#6cc7dc"/>
<rect x="799" y="338.4" width="3" height="54.3" fill="#6cc7dc"/>
<rect x="804" y="388.2" width="1" height="53.2" fill="#6cc7dc"/>
<rect x="803" y="393.1" width="3" height="27.1" fill="#6cc7dc"/>
<rect x="808" y="415.0" width="1" height="18.3" fill="#000000"/>
<rect x="807" y="416.6" width="3" height="2.6" fill="#000000"/>
<rect x="812" y="416.9" width="1" height="36.6" fill="#6cc7dc"/>
<rect x="811" y="417.0" width="3" height="22.4" fill="#6cc7dc"/>
<rect x="817" y="417.0" width="1" height="39.5" fill="#000000"/>
<rect x="816" y="437.3" width="3" height="2.1" fill="#000000"/>
<rect x="821" y="393.1" width="1" height="44.2" fill="#000000"/>
<rect x="820" y="396.7" width="3" height="40.4" fill="#000000"/>
<rect x="825" y="372.9" width="1" height="43.0" fill="#000000"/>
<rect x="824" y="378.9" width="3" height="18.8" fill="#000000"/>
<rect x="829" y="378.1" width="1" height="24.6" fill="#6cc7dc"/>
<rect x="828" y="378.9" width="3" height="13.7" fill="#6cc7dc"/>
<rect x="833" y="386.2" width="1" height="12.5" fill="#000000"/>
<rect x="832" y="389.6" width="3" height="3.0" fill="#000000"/>
<rect x="837" y="380.2" width="1" height="23.6" fill="#6cc7dc"/>
<rect x="836" y="389.6" width="3" height="4.6" fill="#6cc7dc"/>
<rect x="842" y="388.2" width="1" height="21.6" fill="#6cc7dc"/>
<rect x="841" y="393.1" width="3" height="3.2" fill="#6cc7dc"/>
<rect x="846" y="395.1" width="1" height="23.8" fill="#6cc7dc"/>
<rect x="845" y="395.1" width="3" height="9.7" fill="#6cc7dc"/>
<rect x="850" y="339.2" width="1" height="71.7" fill="#6cc7dc"/>
<rect x="849" y="403.8" width="3" height="3.0" fill="#6cc7dc"/>
<rect x="854" y="395.1" width="1" height="66.5" fill="#6cc7dc"/>
<rect x="853" y="405.8" width="3" height="40.6" fill="#6cc7dc"/>
<rect x="858" y="430.0" width="1" height="24.5" fill="#6cc7dc"/>
<rect x="857" y="446.0" width="3" height="2.4" fill="#6cc7dc"/>
<rect x="863" y="440.4" width="1" height="17.1" fill="#6cc7dc"/>
<rect x="862" y="448.4" width="3" height="6.1" fill="#6cc7dc"/>
<rect x="867" y="449.5" width="1" height="30.2" fill="#6cc7dc"/>
<rect x="866" y="454.0" width="3" height="13.6" fill="#6cc7dc"/>
<rect x="871" y="433.3" width="1" height="36.3" fill="#000000"/>
<rect x="870" y="434.7" width="3" height="33.9" fill="#000000"/>
<rect x="875" y="386.2" width="1" height="53.2" fill="#000000"/>
<rect x="874" y="399.1" width="3" height="37.2" fill="#000000"/>
<rect x="879" y="398.3" width="1" height="104.7" fill="#6cc7dc"/>
<rect x="878" y="398.7" width="3" height="100.2" fill="#6cc7dc"/>
<rect x="883" y="481.8" width="1" height="19.2" fill="#000000"/>
<rect x="882" y="496.9" width="3" height="2.0" fill="#000000"/>
<rect x="888" y="457.0" width="1" height="70.5" fill="#000000"/>
<rect x="887" y="469.0" width="3" height="28.9" fill="#000000"/>
<rect x="892" y="437.3" width="1" height="43.4" fill="#000000"/>
<rect x="891" y="444.0" width="3" height="25.0" fill="#000000"/>
<rect x="896" y="440.0" width="1" height="12.0" fill="#000000"/>
<rect x="895" y="441.4" width="3" height="4.6" fill="#000000"/>
<rect x="900" y="411.0" width="1" height="37.4" fill="#000000"/>
<rect x="899" y="437.3" width="3" height="5.1" fill="#000000"/>
<rect x="904" y="399.7" width="1" height="40.7" fill="#000000"/>
<rect x="903" y="408.8" width="3" height="29.6" fill="#000000"/>
<rect x="908" y="398.7" width="1" height="16.2" fill="#000000"/>
<rect x="907" y="407.2" width="3" height="1.6" fill="#000000"/>
<rect x="913" y="406.9" width="1" height="9.7" fill="#6cc7dc"/>
<rect x="912" y="408.1" width="3" height="4.4" fill="#6cc7dc"/>
<rect x="917" y="398.8" width="1" height="16.8" fill="#000000"/>
<rect x="916" y="404.1" width="3" height="8.5" fill="#000000"/>
<rect x="921" y="365.1" width="1" height="38.4" fill="#000000"/>
<rect x="920" y="377.3" width="3" height="26.2" fill="#000000"/>
<rect x="925" y="373.8" width="1" height="26.6" fill="#6cc7dc"/>
<rect x="924" y="376.6" width="3" height="21.4" fill="#6cc7dc"/>
<rect x="929" y="387.9" width="1" height="10.5" fill="#000000"/>
<rect x="928" y="394.0" width="3" height="3.4" fill="#000000"/>
<rect x="934" y="383.3" width="1" height="11.5" fill="#000000"/>
<rect x="933" y="385.9" width="3" height="8.5" fill="#000000"/>
<rect x="938" y="379.3" width="1" height="20.2" fill="#6cc7dc"/>
<rect x="937" y="386.3" width="3" height="4.4" fill="#6cc7dc"/>
<rect x="942" y="388.4" width="1" height="10.1" fill="#6cc7dc"/>
<rect x="941" y="389.4" width="3" height="5.5" fill="#6cc7dc"/>
<rect x="946" y="371.8" width="1" height="23.6" fill="#000000"/>
<rect x="945" y="386.3" width="3" height="8.5" fill="#000000"/>
<rect x="950" y="381.9" width="1" height="33.7" fill="#6cc7dc"/>
<rect x="949" y="386.3" width="3" height="25.2" fill="#6cc7dc"/>
<rect x="954" y="398.8" width="1" height="16.8" fill="#000000"/>
<rect x="953" y="399.5" width="3" height="12.1" fill="#000000"/>
<rect x="959" y="392.8" width="1" height="17.8" fill="#000000"/>
<rect x="958" y="397.4" width="3" height="3.4" fill="#000000"/>
<rect x="963" y="373.2" width="1" height="39.8" fill="#6cc7dc"/>
<rect x="962" y="396.0" width="3" height="2.4" fill="#6cc7dc"/>
<rect x="967" y="390.0" width="1" height="13.5" fill="#000000"/>
<rect x="966" y="391.4" width="3" height="7.1" fill="#000000"/>
<rect x="971" y="381.9" width="1" height="21.0" fill="#000000"/>
<rect x="970" y="384.7" width="3" height="8.1" fill="#000000"/>
<rect x="975" y="374.2" width="1" height="16.1" fill="#6cc7dc"/>
<rect x="974" y="384.7" width="3" height="1.2" fill="#6cc7dc"/>
<rect x="979" y="379.3" width="1" height="35.7" fill="#6cc7dc"/>
<rect x="978" y="385.9" width="3" height="29.1" fill="#6cc7dc"/>
<rect x="984" y="407.5" width="1" height="14.1" fill="#000000"/>
<rect x="983" y="413.0" width="3" height="1.2" fill="#000000"/>
<rect x="988" y="407.5" width="1" height="16.1" fill="#6cc7dc"/>
<rect x="987" y="413.6" width="3" height="6.1" fill="#6cc7dc"/>
<rect x="992" y="418.6" width="1" height="20.2" fill="#6cc7dc"/>
<rect x="991" y="422.3" width="3" height="11.5" fill="#6cc7dc"/>
<rect x="996" y="411.6" width="1" height="25.2" fill="#000000"/>
<rect x="995" y="411.6" width="3" height="22.2" fill="#000000"/>
<rect x="1000" y="411.0" width="1" height="36.3" fill="#6cc7dc"/>
<rect x="999" y="412.2" width="3" height="14.1" fill="#6cc7dc"/>
<rect x="1005" y="421.8" width="1" height="21.7" fill="#000000"/>
<rect x="1004" y="431.4" width="3" height="1.0" fill="#000000"/>
<rect x="1009" y="427.4" width="1" height="13.0" fill="#6cc7dc"/>
<rect x="1008" y="431.4" width="3" height="9.1" fill="#6cc7dc"/>
<rect x="1013" y="435.5" width="1" height="28.2" fill="#6cc7dc"/>
<rect x="1012" y="439.2" width="3" height="10.8" fill="#6cc7dc"/>
<rect x="1017" y="444.2" width="1" height="26.7" fill="#6cc7dc"/>
<rect x="1016" y="450.0" width="3" height="4.7" fill="#6cc7dc"/>
<rect x="1021" y="438.3" width="1" height="19.5" fill="#000000"/>
<rect x="1020" y="443.3" width="3" height="13.9" fill="#000000"/>
<rect x="1025" y="435.5" width="1" height="22.4" fill="#6cc7dc"/>
<rect x="1024" y="443.3" width="3" height="6.7" fill="#6cc7dc"/>
<rect x="1030" y="441.1" width="1" height="19.9" fill="#6cc7dc"/>
<rect x="1029" y="447.9" width="3" height="3.1" fill="#6cc7dc"/>
<rect x="1034" y="442.0" width="1" height="9.6" fill="#000000"/>
<rect x="1033" y="449.1" width="3" height="1.0" fill="#000000"/>
<rect x="1038" y="439.2" width="1" height="14.9" fill="#000000"/>
<rect x="1037" y="442.0" width="3" height="8.3" fill="#000000"/>
<rect x="1042" y="436.1" width="1" height="9.9" fill="#000000"/>
<rect x="1041" y="438.0" width="3" height="5.0" fill="#000000"/>
<rect x="1046" y="433.0" width="1" height="24.0" fill="#6cc7dc"/>
<rect x="1045" y="438.0" width="3" height="14.3" fill="#6cc7dc"/>
<rect x="1050" y="428.0" width="1" height="26.7" fill="#000000"/>
<rect x="1049" y="431.1" width="3" height="21.7" fill="#000000"/>
<rect x="1055" y="429.9" width="1" height="16.1" fill="#6cc7dc"/>
<rect x="1054" y="430.5" width="3" height="9.3" fill="#6cc7dc"/>
<rect x="1059" y="438.6" width="1" height="39.5" fill="#6cc7dc"/>
<rect x="1058" y="438.8" width="3" height="37.0" fill="#6cc7dc"/>
<rect x="1063" y="434.2" width="1" height="48.4" fill="#000000"/>
<rect x="1062" y="448.5" width="3" height="34.2" fill="#000000"/>
<line x1="0" y1="419.5" x2="1065" y2="419.5" stroke="#5fc0d8" stroke-width="1" stroke-dasharray="1 2"/>
</g>
</svg>
<div class="abs" style="left:5px;top:8px;width:699px;height:24px;background:rgba(255,255,255,0.5)"></div>
<div class="abs" style="left:5px;top:32px;width:213px;height:42px;background:rgba(255,255,255,0.5)"></div>
<div class="abs" style="left:5px;top:74px;width:380px;height:24px;background:rgba(255,255,255,0.5)"></div>
<svg class="abs" style="left:11px;top:11px" width="18" height="18" viewBox="0 0 18 18"><circle cx="9" cy="9" r="8.8" fill="#111214"/><path d="M4.2 4.4 C6.4 7 7.6 8.1 9 8.1 C10.4 8.1 11.6 7 13.8 4.4 M4.2 13.4 C6.4 10.8 7.6 9.7 9 9.7 C10.4 9.7 11.6 10.8 13.8 13.4" fill="none" stroke="#e6e6e6" stroke-width="1.3"/></svg>
<div class="t" style="left:33.7px;top:12.95px;font-size:16.71px;line-height:16.71px;letter-spacing:-0.459px;color:#131722;">XRP / U.S. Dollar · 4h · Bitstamp</div>
<svg class="abs" style="left:269px;top:11px" width="18" height="18" viewBox="0 0 18 18"><circle cx="9" cy="9" r="8.9" fill="#dce3e0"/><circle cx="9" cy="9" r="4" fill="#56967d"/></svg>
<div class="t" style="left:295px;top:14.9px;font-size:12.29px;line-height:12.29px;letter-spacing:0px;color:#131722;">O</div>
<div class="t" style="left:306.8px;top:14.9px;font-size:12.29px;line-height:12.29px;letter-spacing:1.35px;color:#e0524d;">1.89919</div>
<div class="t" style="left:364.9px;top:14.9px;font-size:12.29px;line-height:12.29px;letter-spacing:0px;color:#131722;">H</div>
<div class="t" style="left:376.7px;top:14.9px;font-size:12.29px;line-height:12.29px;letter-spacing:1.417px;color:#e0524d;">1.90285</div>
<div class="t" style="left:436.1px;top:14.9px;font-size:12.29px;line-height:12.29px;letter-spacing:0px;color:#131722;">L</div>
<div class="t" style="left:444.5px;top:14.9px;font-size:12.29px;line-height:12.29px;letter-spacing:1.517px;color:#e0524d;">1.89408</div>
<div class="t" style="left:505px;top:14.9px;font-size:12.29px;line-height:12.29px;letter-spacing:0px;color:#131722;">C</div>
<div class="t" style="left:515.2px;top:14.9px;font-size:12.29px;line-height:12.29px;letter-spacing:1.417px;color:#e0524d;">1.89579</div>
<div class="t" style="left:574.3px;top:14.9px;font-size:12.29px;line-height:12.29px;letter-spacing:1.417px;color:#e0524d">−0.00263 (−0.14%)</div>
<div class="abs" style="left:10px;top:36px;width:73px;height:32px;border:1px solid #e0524d;border-radius:6px;background:#fff"></div>
<div class="abs" style="left:143px;top:36px;width:73px;height:32px;border:1px solid #2962ff;border-radius:6px;background:#fff"></div>
<div class="t" style="left:22.3px;top:41.26px;font-size:11.86px;line-height:11.86px;letter-spacing:1.317px;font-weight:bold;color:#e0524d;">1.89642</div>
<div class="t" style="left:33.7px;top:55.59px;font-size:10.29px;line-height:10.29px;letter-spacing:-0.133px;color:#e0524d;">SELL</div>
<div class="t" style="left:93.2px;top:48.55px;font-size:9.86px;line-height:9.86px;letter-spacing:1.017px;color:#131722;">0.00007</div>
<div class="t" style="left:155.1px;top:41.26px;font-size:11.86px;line-height:11.86px;letter-spacing:1.4px;font-weight:bold;color:#2962ff;">1.89649</div>
<div class="t" style="left:167.9px;top:55.59px;font-size:10.29px;line-height:10.29px;letter-spacing:1.6px;color:#2962ff;">BUY</div>
<div class="t" style="left:10.5px;top:80.94px;font-size:12.71px;line-height:12.71px;letter-spacing:1.044px;color:#131722;">EMA 20/50/100/200</div>
<div class="t" style="left:146.8px;top:80.94px;font-size:12.71px;line-height:12.71px;letter-spacing:1.15px;color:#e0524d;">1.87286</div>
<div class="t" style="left:207px;top:80.94px;font-size:12.71px;line-height:12.71px;letter-spacing:1.05px;color:#f09a4a;">1.88027</div>
<div class="t" style="left:266.7px;top:80.94px;font-size:12.71px;line-height:12.71px;letter-spacing:1.133px;color:#80deea;">1.91480</div>
<div class="t" style="left:326.8px;top:80.94px;font-size:12.71px;line-height:12.71px;letter-spacing:1.05px;color:#3d5ef5;">1.99562</div>
<div class="abs" style="left:10px;top:101px;width:27px;height:19px;border:1px solid #e0e3eb;border-radius:4px;background:rgba(255,255,255,0.75)"></div>
<svg class="abs" style="left:18px;top:106px" width="12" height="10" viewBox="0 0 12 10"><path d="M2 7 L6 3 L10 7" fill="none" stroke="#131722" stroke-width="1.3"/></svg>
<div class="abs" style="left:666px;top:15px;width:62px;height:38px;background:#fff;border-radius:6px;box-shadow:0 2px 4px rgba(0,0,0,0.15)"></div>
<svg class="abs" style="left:672px;top:24px" width="52" height="20" viewBox="0 0 52 20"><g fill="#b2b5be"><rect x="2" y="4" width="1.8" height="1.8"/><rect x="8.1" y="4" width="1.8" height="1.8"/><rect x="2" y="9" width="1.8" height="1.8"/><rect x="8.1" y="9" width="1.8" height="1.8"/><rect x="2" y="14" width="1.8" height="1.8"/><rect x="8.1" y="14" width="1.8" height="1.8"/></g><g fill="none" stroke="#131722" stroke-width="1.3"><rect x="29.7" y="2.7" width="5.6" height="5.6" rx="1.2"/><rect x="38.7" y="2.7" width="5.6" height="5.6" rx="1.2"/><rect x="29.7" y="11.8" width="5.6" height="5.6" rx="1.2"/><path d="M41.4 11.4 V17.6 M38.3 14.4 H44.5"/></g></svg>
<div class="abs" style="left:1068px;top:9px;width:61px;height:23px;border:1px solid #e0e3eb;border-radius:4px;background:#fff"></div>
<div class="t" style="left:1072.2px;top:14.2955px;font-size:13px;line-height:13px;letter-spacing:-0.8px;color:#131722;">USD</div>
<svg class="abs" style="left:1120px;top:17px" width="8" height="6" viewBox="0 0 8 6"><path d="M1 1.5 L4 4.5 L7 1.5" fill="none" stroke="#131722" stroke-width="1.3"/></svg>
<div class="t" style="left:1073.8px;top:57.73px;font-size:13.43px;line-height:13.43px;letter-spacing:0.167px;color:#131722;">2.30000</div>
<div class="t" style="left:1073.8px;top:101.46px;font-size:13.43px;line-height:13.43px;letter-spacing:0.167px;color:#131722;">2.25000</div>
<div class="t" style="left:1073.8px;top:145.18px;font-size:13.43px;line-height:13.43px;letter-spacing:0.167px;color:#131722;">2.20000</div>
<div class="t" style="left:1073.8px;top:188.91px;font-size:13.43px;line-height:13.43px;letter-spacing:0.167px;color:#131722;">2.15000</div>
<div class="t" style="left:1073.8px;top:232.63px;font-size:13.43px;line-height:13.43px;letter-spacing:0.167px;color:#131722;">2.10000</div>
<div class="t" style="left:1073.8px;top:276.36px;font-size:13.43px;line-height:13.43px;letter-spacing:0.167px;color:#131722;">2.05000</div>
<div class="t" style="left:1073.8px;top:320.08px;font-size:13.43px;line-height:13.43px;letter-spacing:0.167px;color:#131722;">2.00000</div>
<div class="t" style="left:1072.8px;top:363.81px;font-size:13.43px;line-height:13.43px;letter-spacing:0.333px;color:#131722;">1.95000</div>
<div class="t" style="left:1072.8px;top:407.53px;font-size:13.43px;line-height:13.43px;letter-spacing:0.333px;color:#131722;">1.90000</div>
<div class="t" style="left:1072.8px;top:451.26px;font-size:13.43px;line-height:13.43px;letter-spacing:0.333px;color:#131722;">1.85000</div>
<div class="t" style="left:1072.8px;top:494.98px;font-size:13.43px;line-height:13.43px;letter-spacing:0.333px;color:#131722;">1.80000</div>
<div class="t" style="left:1072.8px;top:538.71px;font-size:13.43px;line-height:13.43px;letter-spacing:0.333px;color:#131722;">1.75000</div>
<div class="abs" style="left:1065px;top:298px;width:62px;height:15px;border:1px solid #2962ff;border-radius:1px;background:#fff"></div>
<div class="t" style="left:1074px;top:300.32px;font-size:12.14px;line-height:12.14px;letter-spacing:0.817px;color:#2962ff;">2.02450</div>
<div class="abs" style="left:1065px;top:373px;width:62px;height:15px;border:1px solid #80deea;border-radius:1px;background:#fff"></div>
<div class="t" style="left:1073px;top:375.32px;font-size:12.14px;line-height:12.14px;letter-spacing:0.983px;color:#80deea;">1.93880</div>
<div class="abs" style="left:1007px;top:411px;width:57px;height:16.5px;background:#6bc4da"></div>
<div class="t" style="left:1011.9px;top:413.3px;font-size:12.29px;line-height:12.29px;letter-spacing:-0.84px;color:#131722;">XRPUSD</div>
<div class="abs" style="left:1065px;top:411px;width:67px;height:31px;background:#6bc4da;border-radius:0 3px 3px 0"></div>
<div class="t" style="left:1073.7px;top:413.66px;font-size:11.86px;line-height:11.86px;letter-spacing:0.917px;color:#131722;">1.89579</div>
<div class="t" style="left:1073.6px;top:427.52px;font-size:11.43px;line-height:11.43px;letter-spacing:1.2px;color:#131722;">02:53:55</div>
<div class="abs" style="left:1065px;top:442px;width:62px;height:15px;border:1px solid #f09a4a;border-radius:1px;background:#fff"></div>
<div class="t" style="left:1073px;top:444.42px;font-size:12.14px;line-height:12.14px;letter-spacing:0.95px;color:#f09a4a;">1.89565</div>
<div class="abs" style="left:1065px;top:459px;width:62px;height:15px;border:1px solid #e0524d;border-radius:1px;background:#fff"></div>
<div class="t" style="left:1073px;top:461.32px;font-size:12.14px;line-height:12.14px;letter-spacing:0.95px;color:#e0524d;">1.87273</div>
<div class="abs" style="left:1065px;top:476px;width:62px;height:15px;border:1px solid #131722;border-radius:1px;background:#fff"></div>
<div class="t" style="left:1073px;top:478.42px;font-size:12.14px;line-height:12.14px;letter-spacing:0.95px;color:#131722;">1.86290</div>
<svg class="abs" style="left:0;top:540px" width="50" height="25" viewBox="0 540 50 25"><path d="M13.7 546 H25.7 V560.6 H20.5 V552.2 H13.7 Z" fill="#131722"/><circle cx="30.8" cy="549.2" r="3.2" fill="#131722"/><path d="M35.4 546 H43.6 L37.7 560.6 H30.6 Z" fill="#131722"/></svg>
<div class="t" style="left:51.1px;top:543.31px;font-size:20.43px;line-height:20.43px;letter-spacing:0.04px;font-weight:bold;color:#131722;">TradingView</div>
<div class="t" style="left:3.9px;top:583.5px;font-size:12.29px;line-height:12.29px;letter-spacing:0px;color:#131722;">14</div>
<div class="t" style="left:79.55px;top:583.5px;font-size:12.29px;line-height:12.29px;letter-spacing:0px;color:#131722;">17</div>
<div class="t" style="left:155.2px;top:583.5px;font-size:12.29px;line-height:12.29px;letter-spacing:0px;color:#131722;">20</div>
<div class="t" style="left:230.35px;top:583.5px;font-size:12.29px;line-height:12.29px;letter-spacing:0px;color:#131722;">23</div>
<div class="t" style="left:305.5px;top:583.5px;font-size:12.29px;line-height:12.29px;letter-spacing:0px;color:#131722;">26</div>
<div class="t" style="left:425.75px;top:583.5px;font-size:12.29px;line-height:12.29px;letter-spacing:0px;font-weight:bold;color:#131722;">Dec</div>
<div class="t" style="left:508.9px;top:583.5px;font-size:12.29px;line-height:12.29px;letter-spacing:0px;color:#131722;">4</div>
<div class="t" style="left:584.05px;top:583.5px;font-size:12.29px;line-height:12.29px;letter-spacing:0px;color:#131722;">7</div>
<div class="t" style="left:655.7px;top:583.5px;font-size:12.29px;line-height:12.29px;letter-spacing:0px;color:#131722;">10</div>
<div class="t" style="left:730.85px;top:583.5px;font-size:12.29px;line-height:12.29px;letter-spacing:0px;color:#131722;">13</div>
<div class="t" style="left:806.0px;top:583.5px;font-size:12.29px;line-height:12.29px;letter-spacing:0px;color:#131722;">16</div>
<div class="t" style="left:881.15px;top:583.5px;font-size:12.29px;line-height:12.29px;letter-spacing:0px;color:#131722;">19</div>
<div class="t" style="left:956.8px;top:583.5px;font-size:12.29px;line-height:12.29px;letter-spacing:0px;color:#131722;">22</div>
<div class="t" style="left:1031.95px;top:583.5px;font-size:12.29px;line-height:12.29px;letter-spacing:0px;color:#131722;">25</div>
<svg class="abs" style="left:1091px;top:580px" width="19" height="19" viewBox="0 0 19 19"><path d="M5.4 3.5 H13.6 L16.8 9.5 L13.6 15.5 H5.4 L2.2 9.5 Z" fill="none" stroke="#131722" stroke-width="1.1" stroke-linejoin="round"/><circle cx="9.5" cy="9.5" r="2.3" fill="none" stroke="#131722" stroke-width="1.1"/></svg>
<div class="abs" style="left:1px;top:603px;width:1135px;height:1px;background:#e6e8ee"></div>
<div class="t" style="left:17.0px;top:616.95px;font-size:14.0px;line-height:14.0px;letter-spacing:0.2px;color:#131722;">1D</div>
<div class="t" style="left:46.5px;top:616.95px;font-size:14.0px;line-height:14.0px;letter-spacing:0.2px;color:#131722;">5D</div>
<div class="t" style="left:78.5px;top:616.95px;font-size:14.0px;line-height:14.0px;letter-spacing:0.2px;color:#131722;">1M</div>
<div class="t" style="left:111.9px;top:616.95px;font-size:14.0px;line-height:14.0px;letter-spacing:0.2px;color:#131722;">3M</div>
<div class="t" style="left:144px;top:616.95px;font-size:14.0px;line-height:14.0px;letter-spacing:0.2px;color:#131722;">6M</div>
<div class="t" style="left:177.9px;top:616.95px;font-size:14.0px;line-height:14.0px;letter-spacing:0.2px;color:#131722;">YTD</div>
<div class="t" style="left:217.3px;top:616.95px;font-size:14.0px;line-height:14.0px;letter-spacing:0.2px;color:#131722;">1Y</div>
<div class="t" style="left:246.6px;top:616.95px;font-size:14.0px;line-height:14.0px;letter-spacing:0.2px;color:#131722;">5Y</div>
<div class="t" style="left:276.9px;top:616.95px;font-size:14.0px;line-height:14.0px;letter-spacing:0.2px;color:#131722;">All</div>
<div class="abs" style="left:303px;top:612px;width:1px;height:22px;background:#e0e3eb"></div>
<svg class="abs" style="left:316px;top:612px" width="22" height="20" viewBox="0 0 22 20"><path d="M2.5 9.5 V5.5 Q2.5 3.5 4.5 3.5 H17.5 Q19.5 3.5 19.5 5.5 V16.5 Q19.5 18.5 17.5 18.5 H11.5 M2.5 7.5 H19.5 M7.5 1 V5 M14.5 1 V5 M1.2 15.3 H8.7 M5.4 12 L8.7 15.3 L5.4 18.6" fill="none" stroke="#131722" stroke-width="1.2"/></svg>
<div class="t" style="left:1032.5px;top:615.8px;font-size:14.29px;line-height:14.29px;letter-spacing:0.418px;color:#131722;">09:06:05 UTC</div>
</body></html>
